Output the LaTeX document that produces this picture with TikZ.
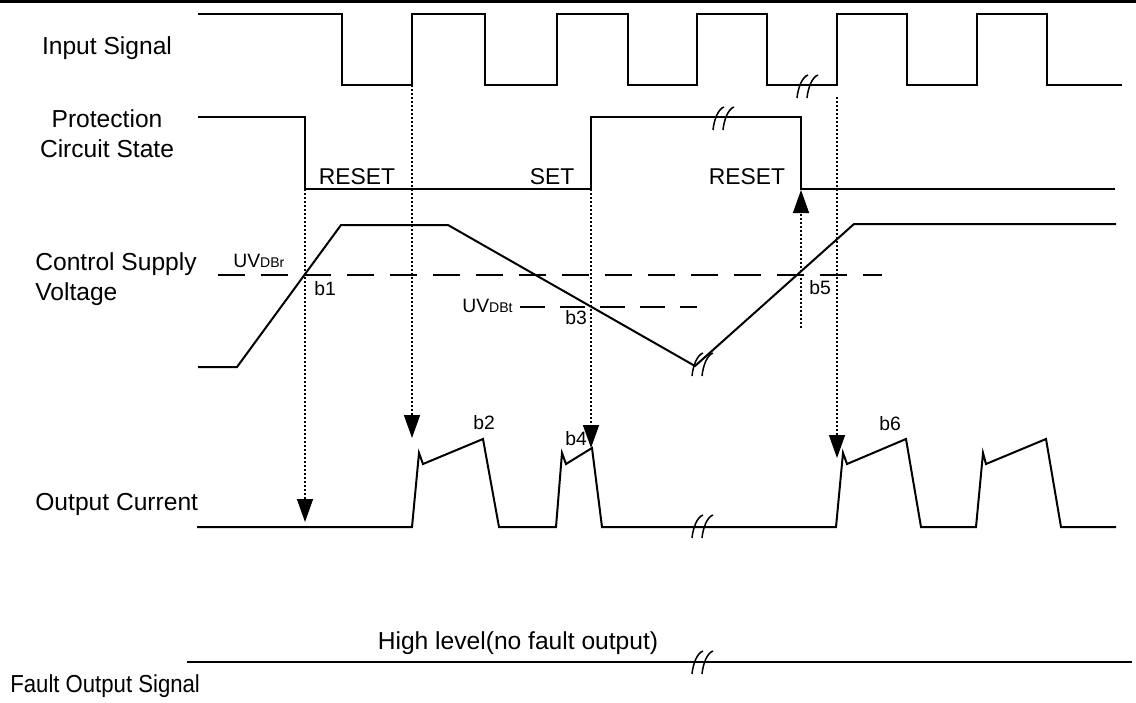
\documentclass[tikz,border=0pt]{standalone}
\usepackage{fontspec}
\setmainfont{Liberation Sans}
\newfontfamily\narrowsans[FakeStretch=0.9]{Liberation Sans}
\usetikzlibrary{arrows.meta}

\begin{document}
\begin{tikzpicture}[x=0.2mm, y=-0.2mm,
  wave/.style={line width=0.4mm, line join=miter},
  trig/.style={line width=0.3mm, dash pattern=on 0.4mm off 0.4mm,
    -{Triangle[length=4.6mm, width=3.2mm]}},
  thresh/.style={line width=0.35mm, dash pattern=on 5.4mm off 3.2mm},
  rowlabel/.style={font=\fontsize{14}{17}\selectfont, inner sep=0pt},
  statelabel/.style={font=\fontsize{13}{15}\selectfont, inner sep=0pt},
  ptlabel/.style={font=\fontsize{11}{13}\selectfont, inner sep=0pt},
  uvlabel/.style={font=\fontsize{11}{13}\selectfont, inner sep=0pt, anchor=base west},
  brk/.pic={
    \draw[line width=0.3mm] (-11,12) .. controls (-10,2) and (-6,-9) .. (0,-11);
    \draw[line width=0.3mm] (-1,12) .. controls (0,2) and (4,-9) .. (10,-11);}]
  \useasboundingbox (0,0) rectangle (1136,702);

  % Rule along the top edge
  \draw[line width=0.6mm] (0,1.5) -- (1136,1.5);

  % Row labels
  \node[rowlabel, anchor=base] (lin) at (107,54) {Input Signal};
  \node[rowlabel, anchor=base, align=center] (lprot) at (107,157) {Protection\\Circuit State};
  \node[rowlabel, anchor=base west, align=left] (lvcc) at (35,300) {Control Supply\\Voltage};
  \node[rowlabel, anchor=base west] (lout) at (35,510) {Output Current};
  \node[rowlabel, anchor=base west] (lfo) at (10,692) {\narrowsans Fault Output Signal};

  % Input signal
  \draw[wave] (198,14) -- (342,14) -- (342,85) -- (412,85) -- (412,14) -- (485,14)
    -- (485,85) -- (557,85) -- (557,14) -- (628,14) -- (628,85) -- (697,85)
    -- (697,14) -- (767,14) -- (767,85) -- (837,85) -- (837,14) -- (907,14)
    -- (907,85) -- (977,85) -- (977,14) -- (1047,14) -- (1047,85) -- (1122,85);
  \pic at (808,86) {brk};

  % Protection circuit state
  \draw[wave] (198,117) -- (305,117) -- (305,189) -- (591,189) -- (591,117)
    -- (801,117) -- (801,189) -- (1115,189);
  \pic at (724,118) {brk};
  \node[statelabel] (st1) at (357,177) {RESET};
  \node[statelabel] (st2) at (552,177) {SET};
  \node[statelabel] (st3) at (747,177) {RESET};

  % Control supply voltage with the two thresholds
  \draw[wave] (198,367) -- (237,367) -- (341,225) -- (448,225) -- (695,366)
    -- (854,224) -- (1116,224);
  \pic at (703,364) {brk};
  \draw[thresh] (218,275) -- (882,275);
  \draw[thresh, dash pattern=on 5mm off 3mm] (520,307) -- (697,307);
  \node[uvlabel] (uvr) at (233,267) {UV{\fontsize{8}{10}\selectfont DBr}};
  \node[uvlabel] (uvt) at (462,312) {UV{\fontsize{8}{10}\selectfont DBt}};
  \node[ptlabel] (b1) at (325,289) {b1};
  \node[ptlabel] (b3) at (576,318) {b3};
  \node[ptlabel] (b5) at (820,288) {b5};

  % Output current
  \draw[wave] (197,527) -- (412,527) -- (419,453) -- (423,464) -- (483,439)
    -- (499,527) -- (556,527) -- (562,453) -- (566,464) -- (592,448)
    -- (602,527) -- (836,527) -- (843,453) -- (847,464) -- (906,439)
    -- (921,527) -- (976,527) -- (983,453) -- (986,464) -- (1046,439)
    -- (1061,527) -- (1116,527);
  \pic at (703,526) {brk};
  \node[ptlabel] (b2) at (484,423) {b2};
  \node[ptlabel] (b4) at (576,439) {b4};
  \node[ptlabel] (b6) at (890,424) {b6};

  % Fault output signal
  \draw[wave] (187,662) -- (1132,662);
  \pic at (703,662) {brk};
  \node[rowlabel, anchor=base] (hl) at (518,649) {High level(no fault output)};

  % Trigger arrows
  \coordinate (rst1) at (305,189);
  \coordinate (oc1) at (305,522);
  \coordinate (in1) at (412,85);
  \coordinate (oc2) at (412,438);
  \coordinate (set1) at (591,189);
  \coordinate (oc3) at (591,448);
  \coordinate (uv5) at (801,328);
  \coordinate (rst2) at (801,190);
  \coordinate (in2) at (837,97);
  \coordinate (oc4) at (837,458);
  \draw[trig] (rst1) -- (oc1);
  \draw[trig] (in1) -- (oc2);
  \draw[trig] (set1) -- (oc3);
  \draw[trig] (uv5) -- (rst2);
  \draw[trig] (in2) -- (oc4);
\end{tikzpicture}
\end{document}
